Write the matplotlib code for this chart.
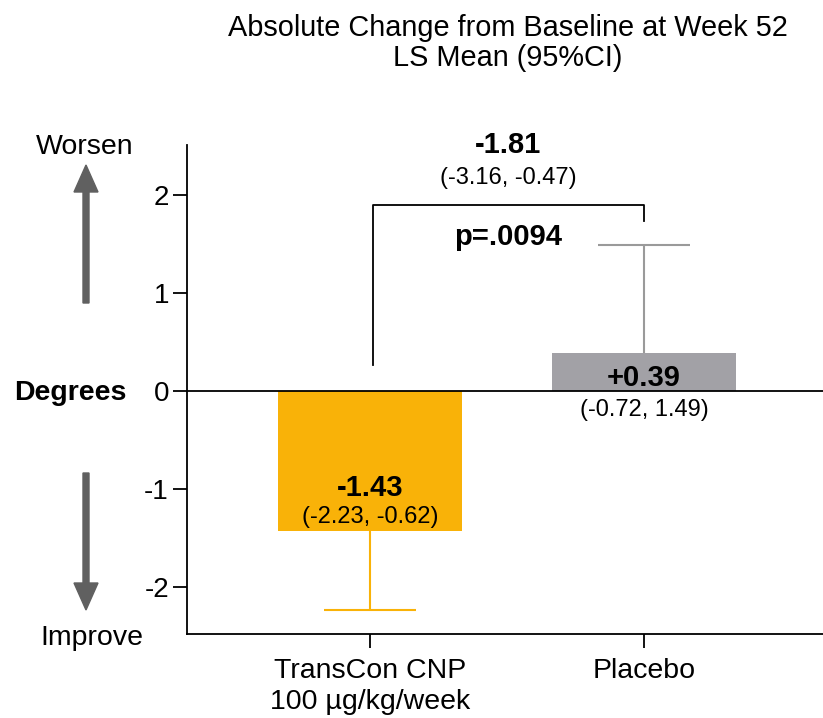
import matplotlib
matplotlib.use("Agg")
import matplotlib.pyplot as plt
from matplotlib.patches import FancyArrow

plt.rcParams['font.family'] = ['Liberation Sans', 'DejaVu Sans']

categories = ["TransCon CNP\n100 µg/kg/week", "Placebo"]
means = [-1.43, 0.39]
ci_low = [-2.23, -0.72]
ci_high = [-0.62, 1.49]
bar_colors = ["#F9B208", "#A2A1A6"]
err_colors = ["#F9B208", "#9A9A9A"]
diff_mean = -1.81
diff_ci = (-3.16, -0.47)
p_text = "p=.0094"
yticks = [-2, -1, 0, 1, 2]

W, H = 823, 718
fig = plt.figure(figsize=(W/100, H/100), dpi=100)
ax = fig.add_axes([187/W, (H-634)/H, (W-187)/W, (634-145)/H])

x = [0, 1]
bw = 0.672
ax.bar(x, means, width=bw, color=bar_colors, zorder=2)

# one-sided error bars (away from zero)
cap = 0.168
for i in range(2):
    end = ci_low[i] if means[i] < 0 else ci_high[i]
    ax.vlines(x[i], means[i], end, color=err_colors[i], lw=1.5, zorder=1)
    ax.hlines(end, x[i]-cap, x[i]+cap, color=err_colors[i], lw=1.5, zorder=1)

ax.axhline(0, color='black', lw=1.3, zorder=3)

ax.set_xlim(-0.668, 1.653)
ax.set_ylim(-2.48, 2.51)
ax.set_yticks(yticks)
ax.set_yticklabels([str(t) for t in yticks])
ax.set_xticks(x)
ax.set_xticklabels(categories, fontsize=20.5, linespacing=1.25)
ax.tick_params(axis='y', labelsize=20, length=10, width=1.3, pad=3)
ax.tick_params(axis='x', length=10, width=1.3, pad=7)
for s in ['top', 'right']:
    ax.spines[s].set_visible(False)
ax.spines['left'].set_linewidth(1.3)
ax.spines['bottom'].set_linewidth(1.3)

# bar value labels
ax.text(0, -0.99, f"{means[0]:.2f}", ha='center', va='center', fontsize=21, fontweight='bold', zorder=4)
ax.text(0, -1.29, f"({ci_low[0]:.2f}, {ci_high[0]:.2f})", ha='center', va='center', fontsize=17, zorder=4)
ax.text(1, 0.13, f"+{means[1]:.2f}", ha='center', va='center', fontsize=21, fontweight='bold', zorder=4)
ax.text(1, -0.19, f"({ci_low[1]:.2f}, {ci_high[1]:.2f})", ha='center', va='center', fontsize=17, zorder=4)

# comparison bracket
ax.plot([0.011, 0.011, 1.0, 1.0], [0.27, 1.90, 1.90, 1.73], color='black', lw=1.3, clip_on=False)
ax.text(0.504, 2.51, f"{diff_mean:.2f}", ha='center', va='center', fontsize=21, fontweight='bold', clip_on=False)
ax.text(0.504, 2.17, f"({diff_ci[0]:.2f}, {diff_ci[1]:.2f})", ha='center', va='center', fontsize=17, clip_on=False)
ax.text(0.504, 1.57, p_text, ha='center', va='center', fontsize=21, fontweight='bold', clip_on=False)

# title
fig.text(508/W, 1-28/H, "Absolute Change from Baseline at Week 52", ha='center', va='center', fontsize=20.8)
fig.text(508/W, 1-58/H, "LS Mean (95%CI)", ha='center', va='center', fontsize=20.8)

# side annotations
fig.text(85/W, 1-147/H, "Worsen", ha='center', va='center', fontsize=20.5)
fig.text(92/W, 1-638/H, "Improve", ha='center', va='center', fontsize=20.5)
fig.text(70/W, 1-393/H, "Degrees", ha='center', va='center', fontsize=20.5, fontweight='bold')

arrow_kw = dict(width=6/W, head_width=24/W, head_length=27/H, length_includes_head=True,
                color='#606060', transform=fig.transFigure)
fig.patches.append(FancyArrow(86/W, 1-303/H, 0, (303-165)/H, **arrow_kw))
fig.patches.append(FancyArrow(86/W, 1-473/H, 0, -(610-473)/H, **arrow_kw))

fig.savefig("out.png", dpi=100)
